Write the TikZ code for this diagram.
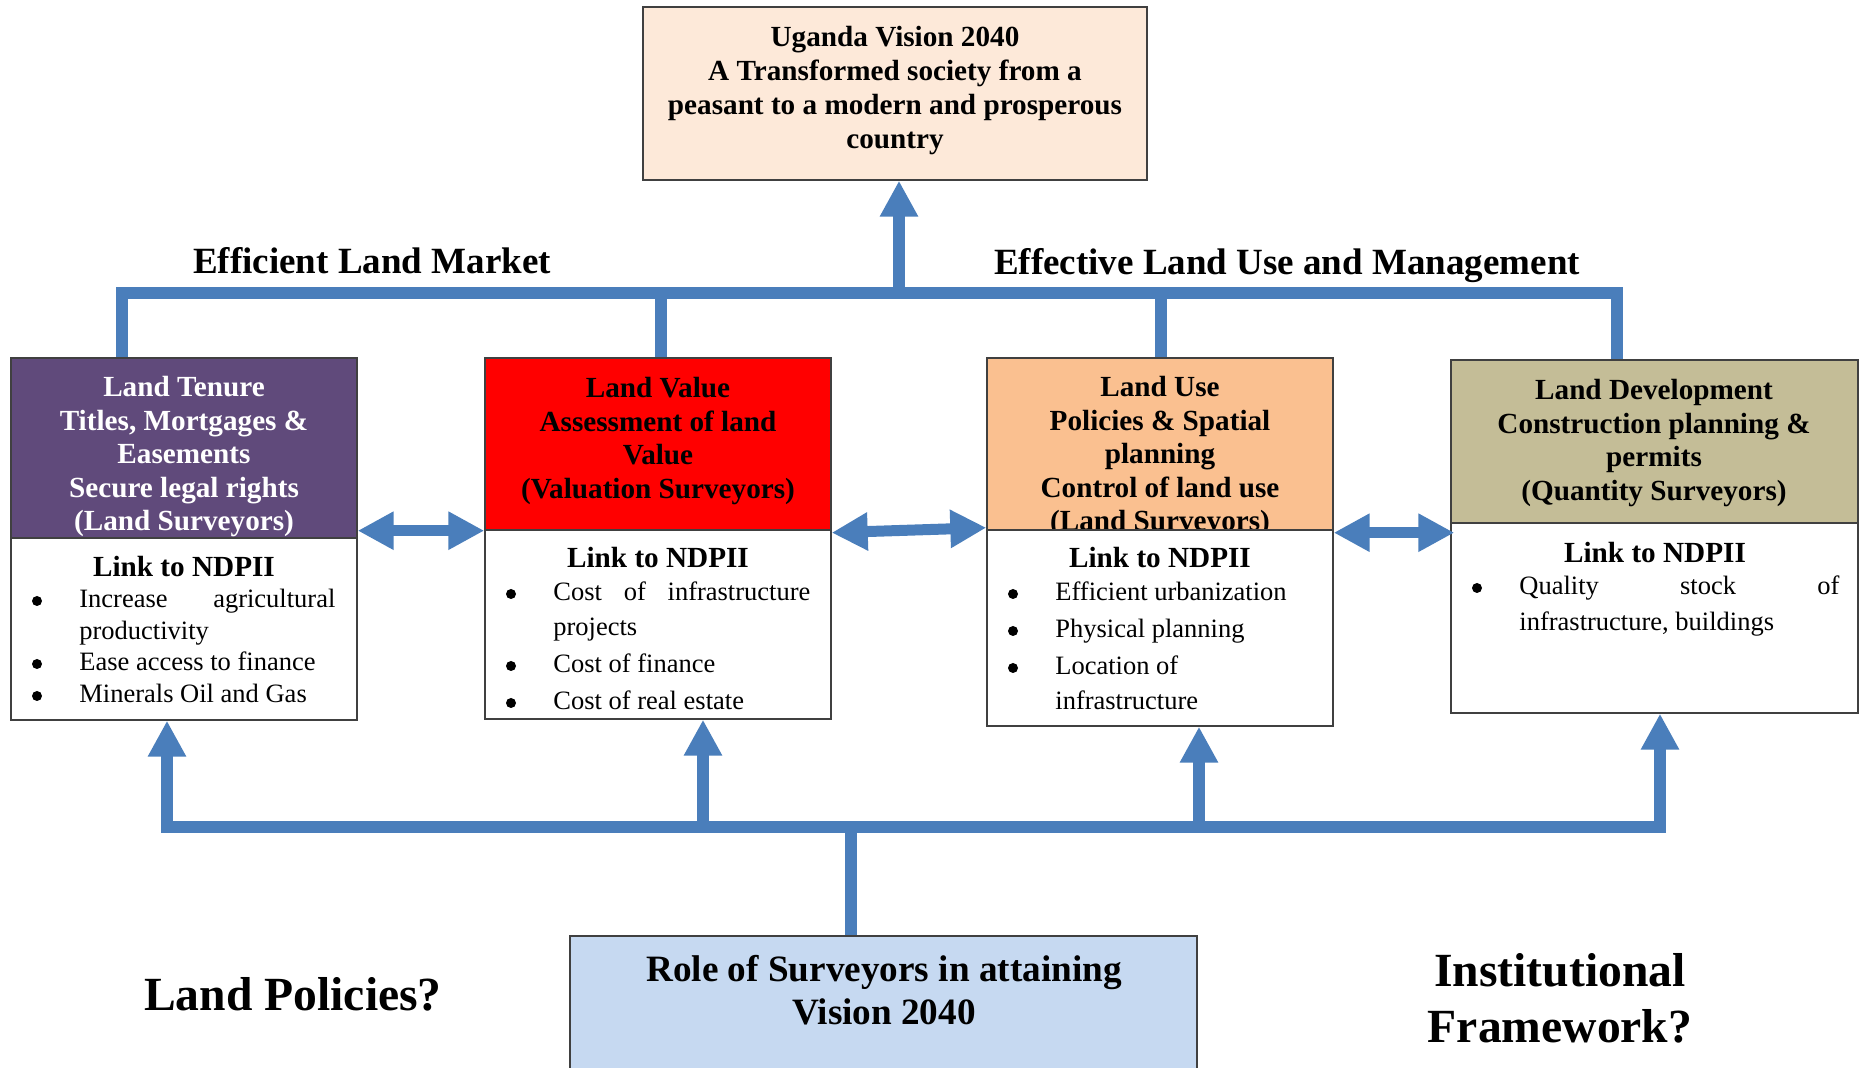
\documentclass[tikz,border=0pt]{standalone}
\usepackage{fontspec}
\setmainfont{Liberation Serif}
\usetikzlibrary{fit,arrows.meta}
\definecolor{flow}{HTML}{4A7EBB}
\definecolor{boxline}{HTML}{404040}
\definecolor{purp}{HTML}{604A7B}
\definecolor{redbox}{HTML}{FF0000}
\definecolor{orangebox}{HTML}{FAC090}
\definecolor{khaki}{HTML}{C4BD97}
\definecolor{topfill}{HTML}{FDE9D9}
\definecolor{botfill}{HTML}{C6D9F1}
\tikzset{
  box/.style={draw=boxline, line width=0.7pt, inner sep=0pt},
  hdrtxt/.style={align=center, inner sep=0pt, font=\bfseries\fontsize{14.6}{16.75}\selectfont},
  linktxt/.style={inner sep=0pt, font=\bfseries\fontsize{14.6}{16.75}\selectfont},
  itm/.style={anchor=base west, inner sep=0pt, font=\fontsize{13.25}{15}\selectfont},
  bdot/.style={circle, fill=black, inner sep=0pt, minimum size=5pt},
  midlabel/.style={inner sep=0pt, font=\bfseries\fontsize{18.5}{21}\selectfont},
  biglabel/.style={align=center, inner sep=0pt, font=\bfseries\fontsize{23.8}{28}\selectfont},
  flowline/.style={draw=flow, line width=6pt},
  flowarr/.style={flowline, line join=miter, -{Triangle[width=18pt,length=18pt]}},
  flowdarr/.style={draw=flow, line width=5.5pt, {Triangle[width=18pt,length=18pt]}-{Triangle[width=18pt,length=18pt]}},
}
\begin{document}
\begin{tikzpicture}[x=0.5pt,y=-0.5pt]
\clip (0,0) rectangle (1865,1068);
\fill[white] (0,0) rectangle (1865,1068);

% top box
\node[box, fill=topfill, fit={(643,7) (1147,180)}] (top) {};
\node[hdrtxt, font=\bfseries\fontsize{14.6}{17}\selectfont] (toptxt) at (895,91)
  {Uganda Vision 2040\\A Transformed society from a\\peasant to a modern and prosperous\\country};

% box 1
\node[box, fill=purp, fit={(11,358) (357,538)}] (h1) {};
\node[hdrtxt, text=white] (t1) at (184,457)
  {Land Tenure\\Titles, Mortgages \&\\Easements\\Secure legal rights\\(Land Surveyors)};
\node[box, fill=white, fit={(11,538) (357,720)}] (d1) {};
\node[linktxt] (l1) at (184,567) {Link to NDPII};
\node[bdot] (p1a) at (37,601) {};
\node[itm] (i1a) at (79,608) {\hbox to 128pt{Increase\hfill agricultural}};
\node[itm] (i1b) at (79,640) {productivity};
\node[bdot] (p1c) at (37,664) {};
\node[itm] (i1c) at (79,671) {Ease access to finance};
\node[bdot] (p1d) at (37,696) {};
\node[itm] (i1d) at (79,703) {Minerals Oil and Gas};

% box 2
\node[box, fill=redbox, fit={(485,358) (831,530)}] (h2) {};
\node[hdrtxt] (t2) at (658,441)
  {Land Value\\Assessment of land\\Value\\(Valuation Surveyors)};
\node[box, fill=white, fit={(485,530) (831,719)}] (d2) {};
\node[linktxt] (l2) at (658,558) {Link to NDPII};
\node[bdot] (p2a) at (511,594) {};
\node[itm] (i2a) at (553,601) {\hbox to 128.5pt{Cost\hfill of\hfill infrastructure}};
\node[itm] (i2b) at (553,636) {projects};
\node[bdot] (p2c) at (511,666) {};
\node[itm] (i2c) at (553,673) {Cost of finance};
\node[bdot] (p2d) at (511,703) {};
\node[itm] (i2d) at (553,710) {Cost of real estate};

% box 3
\node[box, fill=orangebox, fit={(987,358) (1333,530)}] (h3) {};
\node[hdrtxt] (t3) at (1160,457)
  {Land Use\\Policies \& Spatial\\planning\\Control of land use\\(Land Surveyors)};
\node[box, fill=white, fit={(987,530) (1333,726)}] (d3) {};
\node[linktxt] (l3) at (1160,558) {Link to NDPII};
\node[bdot] (p3a) at (1013,594) {};
\node[itm] (i3a) at (1055,601) {Efficient urbanization};
\node[bdot] (p3b) at (1013,631) {};
\node[itm] (i3b) at (1055,638) {Physical planning};
\node[bdot] (p3c) at (1013,668) {};
\node[itm] (i3c) at (1055,675) {Location of};
\node[itm] (i3d) at (1055,710) {infrastructure};

% box 4
\node[box, fill=khaki, fit={(1451,360) (1858,523)}] (h4) {};
\node[hdrtxt] (t4) at (1654,443)
  {Land Development\\Construction planning \&\\permits\\(Quantity Surveyors)};
\node[box, fill=white, fit={(1451,523) (1858,713)}] (d4) {};
\node[linktxt] (l4) at (1655,553) {Link to NDPII};
\node[bdot] (p4a) at (1477,588) {};
\node[itm] (i4a) at (1519,595) {\hbox to 160pt{Quality\hfill stock\hfill of}};
\node[itm] (i4b) at (1519,631) {infrastructure, buildings};

% bottom box
\node[box, fill=botfill, fit={(570,936) (1197,1100)}] (bot) {};
\node[hdrtxt, font=\bfseries\fontsize{18.6}{21.5}\selectfont] (bottxt) at (884,990)
  {Role of Surveyors in attaining\\Vision 2040};

% labels
\node[midlabel] (lab1) at (372,261) {Efficient Land Market};
\node[midlabel] (lab2) at (1287,266) {Effective Land Use and Management};
\node[biglabel] (lab3) at (293,994) {Land Policies?};
\node[biglabel] (lab4) at (1560,998) {Institutional\\Framework?};

% top bus
\coordinate (b1) at (122,293);
\coordinate (b2) at (661,293);
\coordinate (bt) at (899,293);
\coordinate (b3) at (1161,293);
\coordinate (b4) at (1617,293);
\draw[flowline, line join=miter] (h1.north -| b1) -- (b1) -- (b4) -- (h4.north -| b4);
\draw[flowline] (b2) -- (h2.north -| b2);
\draw[flowline] (b3) -- (h3.north -| b3);
\draw[flowarr] (bt) -- (top.south -| bt);

% bottom bus
\coordinate (a1) at (167,827);
\coordinate (a2) at (703,827);
\coordinate (ab) at (851,827);
\coordinate (a3) at (1199,827);
\coordinate (a4) at (1660,827);
\draw[flowline] (a2) -- (a3);
\draw[flowarr] (a2) -- (a1) -- (d1.south -| a1);
\draw[flowarr] (a3) -- (a4) -- (d4.south -| a4);
\draw[flowarr] (a2) -- (d2.south -| a2);
\draw[flowarr] (a3) -- (d3.south -| a3);
\draw[flowline] (ab) -- (bot.north -| ab);

% double arrows between boxes
\draw[flowdarr] (h1.east |- h2.south) -- (h2.south west);
\draw[flowdarr] ([yshift=-1pt]h2.south east) -- ([yshift=1.5pt]h3.south west);
\coordinate (da3) at ([yshift=-1pt]h3.south east);
\path (da3 -| d4.west) coordinate (da4);
\draw[flowdarr] (da3) -- ([xshift=2pt]da4);
\end{tikzpicture}
\end{document}
